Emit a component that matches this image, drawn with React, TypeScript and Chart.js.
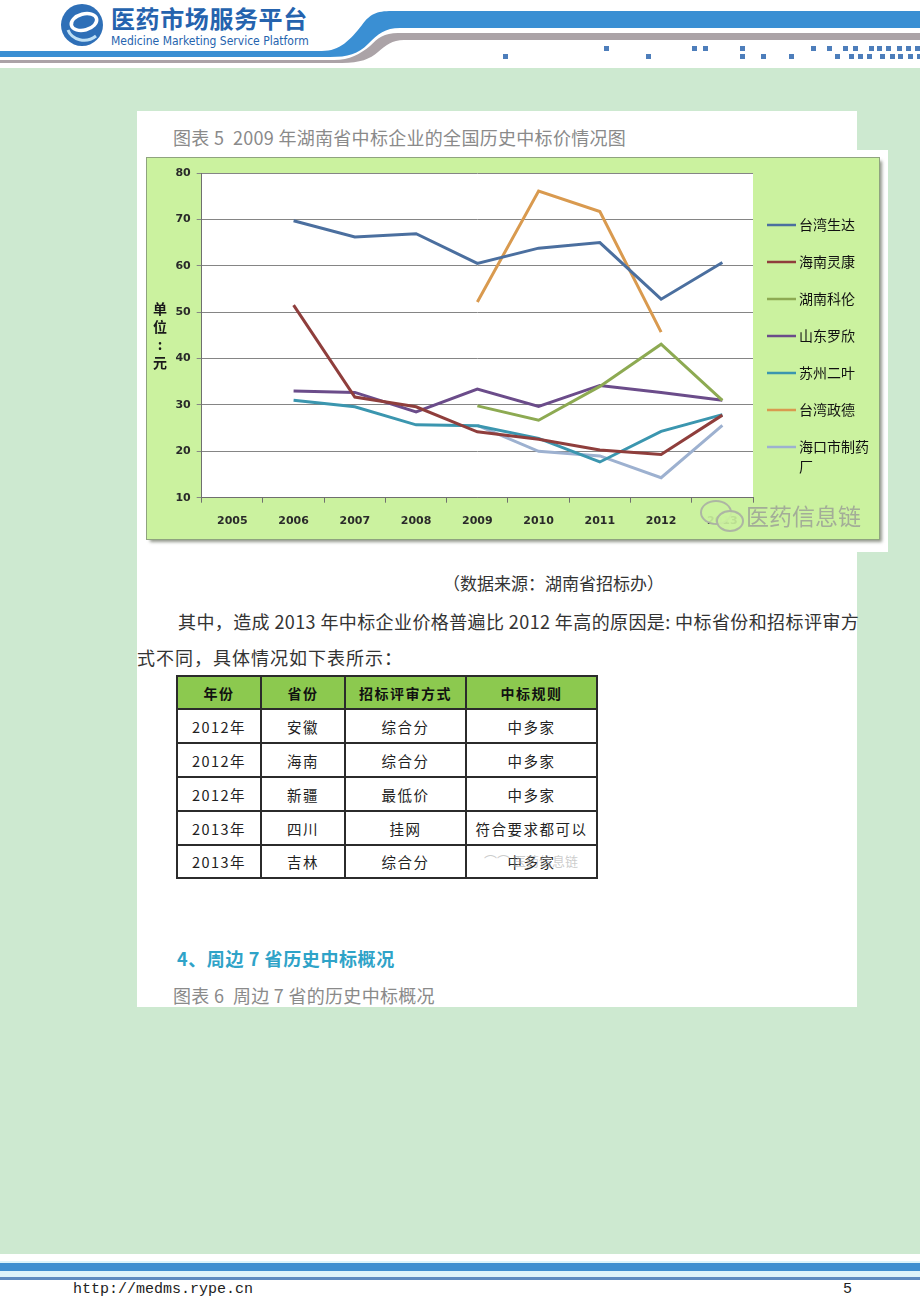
import React, { useEffect, useRef } from "react";
import { Chart, registerables } from "chart.js";

Chart.register(...registerables);

// ---------- data ----------
const years = ["2005", "2006", "2007", "2008", "2009", "2010", "2011", "2012", "2013"];
const seriesNames = ["台湾生达", "海南灵康", "湖南科伦", "山东罗欣", "苏州二叶", "台湾政德", "海口市制药厂"];
const taiwanShengda = [null, 69.7, 66.2, 66.9, 60.5, 63.8, 65.0, 52.8, 60.7];
const hainanLingkang = [null, 51.5, 31.7, 29.6, 24.2, 22.6, 20.3, 19.3, 27.8];
const hunanKelun = [null, null, null, null, 29.8, 26.7, 34.0, 43.1, 31.0];
const shandongLuoxin = [null, 33.0, 32.7, 28.5, 33.4, 29.7, 34.2, 32.7, 31.0];
const suzhouErye = [null, 31.0, 29.6, 25.7, 25.5, 22.8, 17.7, 24.3, 27.9];
const taiwanZhengde = [null, null, null, null, 52.2, 76.1, 71.7, 45.7, null];
const haikouZhiyao = [null, null, null, null, 25.6, 20.0, 19.0, 14.3, 25.6];
const seriesValues = [taiwanShengda, hainanLingkang, hunanKelun, shandongLuoxin, suzhouErye, taiwanZhengde, haikouZhiyao];
const seriesColors = ["#4B6F9F", "#8F3E3C", "#8DAA52", "#6B4C8A", "#3B96AF", "#D99A4F", "#9DB1D0"];
const yTicks = [10, 20, 30, 40, 50, 60, 70, 80];
const unitChars = ["单", "位", ":", "元"];

const tableHead = ["年份", "省份", "招标评审方式", "中标规则"];
const tableRows = [
  ["2012年", "安徽", "综合分", "中多家"],
  ["2012年", "海南", "综合分", "中多家"],
  ["2012年", "新疆", "最低价", "中多家"],
  ["2013年", "四川", "挂网", "符合要求都可以"],
  ["2013年", "吉林", "综合分", "中多家"],
];

const headerSquaresTop = [604, 692, 703, 740, 811, 827, 843, 853, 869, 877, 886, 897, 906, 915];
const headerSquaresBottom = [503, 646, 740, 761, 789, 835, 849, 858, 867, 880, 890, 898, 908, 917];

const CJK = '"Noto Sans CJK SC", "Noto Sans", sans-serif';

const overlayPlugin = {
  id: "overlay",
  beforeDraw(chart: any) {
    const { ctx, chartArea } = chart;
    ctx.save();
    ctx.fillStyle = "#ffffff";
    ctx.fillRect(chartArea.left, chartArea.top, chartArea.right - chartArea.left, chartArea.bottom - chartArea.top);
    ctx.restore();
  },
  afterDraw(chart: any) {
    const { ctx, chartArea } = chart;
    ctx.save();
    // vertical unit title
    ctx.font = `bold 14px ${CJK}`;
    ctx.fillStyle = "#1a1a1a";
    ctx.textAlign = "center";
    ctx.textBaseline = "middle";
    const cy = (chartArea.top + chartArea.bottom) / 2;
    unitChars.forEach((c, i) => ctx.fillText(c, 13, cy + (i - 1.5) * 18));
    // legend
    const lx = chartArea.right + 14;
    chart.data.datasets.forEach((ds: any, i: number) => {
      const y = 67 + i * 37;
      ctx.strokeStyle = ds.borderColor;
      ctx.lineWidth = 2.5;
      ctx.beginPath();
      ctx.moveTo(lx, y);
      ctx.lineTo(lx + 29, y);
      ctx.stroke();
      ctx.font = `14px ${CJK}`;
      ctx.fillStyle = "#111";
      ctx.textAlign = "left";
      const label: string = ds.label;
      const lines: string[] = [];
      for (let k = 0; k < label.length; k += 5) lines.push(label.slice(k, k + 5));
      lines.forEach((ln, j) => ctx.fillText(ln, lx + 32, y + j * 20));
    });
    ctx.restore();
  },
};

function PriceChart() {
  const ref = useRef<HTMLCanvasElement>(null);
  useEffect(() => {
    if (!ref.current) return;
    const chart = new Chart(ref.current, {
      type: "line",
      data: {
        labels: years,
        datasets: seriesNames.map((name, i) => ({
          label: name,
          data: seriesValues[i],
          borderColor: seriesColors[i],
          backgroundColor: seriesColors[i],
          borderWidth: 3,
          pointRadius: 0,
          tension: 0,
          spanGaps: false,
        })),
      },
      options: {
        animation: false,
        responsive: false,
        layout: { padding: { top: 15, right: 126, bottom: 0, left: 0 } },
        plugins: { legend: { display: false }, tooltip: { enabled: false } },
        scales: {
          x: {
            type: "category",
            offset: true,
            grid: { display: true, offset: true, drawOnChartArea: false, drawTicks: true, tickLength: 5, color: "#6f6f6f" },
            border: { color: "#6f6f6f", width: 1 },
            ticks: { color: "#2a2a2a", padding: 12, font: { size: 11, family: "DejaVu Sans", weight: "bold" }, maxRotation: 0 },
            afterFit: (axis: any) => { axis.height = 41.3; },
          },
          y: {
            min: 10,
            max: 80,
            afterBuildTicks: (axis: any) => { axis.ticks = yTicks.map((v) => ({ value: v })); },
            grid: { color: "#858585", lineWidth: 1, drawTicks: true, tickLength: 5 },
            border: { color: "#6f6f6f", width: 1 },
            ticks: { color: "#2a2a2a", padding: 6, font: { size: 11, family: "DejaVu Sans", weight: "bold" } },
            afterFit: (axis: any) => { axis.width = 54.7; },
          },
        },
      },
      plugins: [overlayPlugin],
    } as any);
    return () => chart.destroy();
  }, []);
  return <canvas ref={ref} width={732} height={381} style={{ display: "block", width: 732, height: 381 }} />;
}

const abs = (l: number, t: number, extra: React.CSSProperties = {}): React.CSSProperties => ({
  position: "absolute",
  left: l,
  top: t,
  ...extra,
});

export default function App() {
  const colX = [177, 261, 345, 466, 597];
  const rowY = [676, 709, 743, 777, 811, 845, 878];
  return (
    <div style={{ position: "absolute", left: 0, top: 0, width: 920, height: 1302, background: "#CDE9D0", overflow: "hidden", fontFamily: CJK }}>
      {/* header */}
      <svg width={920} height={68} style={abs(0, 0)}>
        <rect x={0} y={0} width={920} height={68} fill="#ffffff" />
        <path d="M0,51 L322,51 C340,51 350,40 362,25 C370,14 376,11 392,11 L920,11 L920,28 L400,28 C385,28 378,34 368,44 C358,54 348,57 330,57 L0,57 Z" fill="#3A8FD3" />
        <path d="M0,60 L334,60 C350,60 360,54 370,46 C378,38 384,33 398,33 L920,33 L920,40 L404,40 C392,40 386,45 378,52 C370,59 360,63 342,63 L0,63 Z" fill="#ABA3A7" />
        {headerSquaresTop.map((x, i) => <rect key={"a" + i} x={x} y={46} width={5} height={5} fill="#4D7EBB" />)}
        {headerSquaresBottom.map((x, i) => <rect key={"b" + i} x={x} y={54} width={5} height={5} fill="#4D7EBB" />)}
        <circle cx={82} cy={25} r={21} fill="#2E6FB7" />
        <ellipse cx={84} cy={22} rx={13} ry={8} fill="none" stroke="#ffffff" strokeWidth={3.5} transform="rotate(-15 84 22)" />
        <path d="M68,30 C72,40 86,44 96,36" fill="none" stroke="#BFE0F5" strokeWidth={3} />
      </svg>
      <div style={abs(111, 4, { fontSize: 24, fontWeight: "bold", color: "#2563AE", letterSpacing: 0.6, lineHeight: "28px", whiteSpace: "nowrap" })}>医药市场服务平台</div>
      <div style={abs(111, 34, { fontSize: 12, color: "#2563AE", fontFamily: '"Liberation Sans Narrow", "DejaVu Sans Condensed", sans-serif', lineHeight: "14px", whiteSpace: "nowrap" })}>Medicine Marketing Service Platform</div>

      {/* white content panel */}
      <div style={abs(137, 111, { width: 720, height: 896, background: "#ffffff" })} />
      <div style={abs(137, 150, { width: 751, height: 402, background: "#ffffff" })} />

      <div style={abs(173, 124, { fontSize: 18, color: "#8a8a8a", letterSpacing: 0.3, lineHeight: "26px", whiteSpace: "nowrap" })}>图表 5&nbsp;&nbsp;2009 年湖南省中标企业的全国历史中标价情况图</div>

      {/* chart box */}
      <div style={abs(147, 158, { width: 732, height: 381, background: "#CBF29F", boxShadow: "3px 3px 3px rgba(60,70,50,0.55)", outline: "1px solid #8FA37F" })}>
        <PriceChart />
      </div>
      {/* watermark */}
      <div style={abs(700, 500, { width: 28, height: 21, borderRadius: "50%", border: "2px solid rgba(165,165,165,0.8)", background: "rgba(203,242,159,0.9)" })} />
      <div style={abs(716, 510, { width: 24, height: 18, borderRadius: "50%", border: "2px solid rgba(165,165,165,0.8)", background: "rgba(203,242,159,0.9)" })} />
      <div style={abs(746, 500, { fontSize: 23, color: "rgba(150,150,150,0.75)", lineHeight: "30px", whiteSpace: "nowrap" })}>医药信息链</div>

      <div style={abs(443, 570, { fontSize: 17, color: "#333", lineHeight: "26px", whiteSpace: "nowrap" })}>（数据来源：湖南省招标办）</div>
      <div style={abs(178, 608, { fontSize: 18, color: "#333", letterSpacing: 0.4, lineHeight: "26px", whiteSpace: "nowrap" })}>其中，造成 2013 年中标企业价格普遍比 2012 年高的原因是: 中标省份和招标评审方</div>
      <div style={abs(137, 644, { fontSize: 18, color: "#333", letterSpacing: 1, lineHeight: "26px", whiteSpace: "nowrap" })}>式不同，具体情况如下表所示：</div>

      {/* table */}
      <div style={abs(colX[0], rowY[0], { width: colX[4] - colX[0], height: rowY[1] - rowY[0], background: "#8CC94F" })} />
      {rowY.map((y, i) => (
        <div key={"h" + i} style={abs(colX[0] - 1, y - 1, { width: colX[4] - colX[0] + 2, height: 2, background: "#2b2b2b" })} />
      ))}
      {colX.map((x, i) => (
        <div key={"v" + i} style={abs(x - 1, rowY[0] - 1, { width: 2, height: rowY[6] - rowY[0] + 2, background: "#2b2b2b" })} />
      ))}
      {tableHead.map((t, c) => (
        <div key={"th" + c} style={abs(colX[c], rowY[0], { width: colX[c + 1] - colX[c], height: rowY[1] - rowY[0], display: "flex", alignItems: "center", justifyContent: "center", fontSize: 14, fontWeight: "bold", color: "#111", letterSpacing: 1.5 })}>{t}</div>
      ))}
      {tableRows.map((row, r) =>
        row.map((t, c) => (
          <div key={"td" + r + "-" + c} style={abs(colX[c], rowY[r + 1], { width: colX[c + 1] - colX[c], height: rowY[r + 2] - rowY[r + 1], display: "flex", alignItems: "center", justifyContent: "center", fontSize: 14.5, color: "#222", letterSpacing: 1.5 })}>{t}</div>
        ))
      )}
      <div style={abs(484, 852, { fontSize: 13, color: "rgba(170,170,170,0.6)", lineHeight: "18px", whiteSpace: "nowrap" })}>⌒⌒ 医药信息链</div>

      <div style={abs(177, 945, { fontSize: 18, fontWeight: "bold", color: "#2FA3C8", letterSpacing: 0.6, lineHeight: "26px", whiteSpace: "nowrap" })}>4、周边 7 省历史中标概况</div>
      <div style={abs(173, 982, { fontSize: 18, color: "#8a8a8a", letterSpacing: 0.3, lineHeight: "26px", whiteSpace: "nowrap" })}>图表 6&nbsp;&nbsp;周边 7 省的历史中标概况</div>

      {/* footer */}
      <div style={abs(0, 1254, { width: 920, height: 48, background: "#ffffff" })} />
      <div style={abs(0, 1261, { width: 920, height: 19, background: "#DDF4FA" })} />
      <div style={abs(0, 1263, { width: 920, height: 8, background: "#3F8FD0" })} />
      <div style={abs(0, 1277, { width: 920, height: 3, background: "#5E8CC0" })} />
      <div style={abs(73, 1281, { fontSize: 15, color: "#222", fontFamily: '"Liberation Mono", "DejaVu Sans Mono", monospace', lineHeight: "18px", whiteSpace: "nowrap" })}>http://medms.rype.cn</div>
      <div style={abs(843, 1281, { fontSize: 15, color: "#222", fontFamily: '"Liberation Mono", "DejaVu Sans Mono", monospace', lineHeight: "18px" })}>5</div>
    </div>
  );
}
